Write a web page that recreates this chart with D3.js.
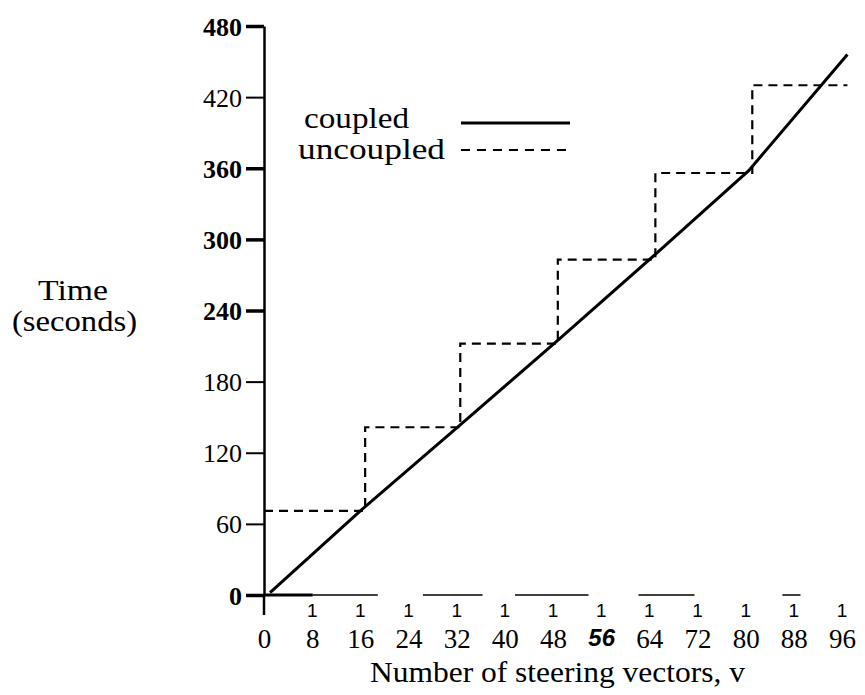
<!DOCTYPE html>
<html>
<head>
<meta charset="utf-8">
<script src="https://cdn.jsdelivr.net/npm/d3@7"></script>
<style>
  body { margin: 0; background: #fff; }
  text { font-family: "Liberation Serif", "Times New Roman", serif; fill: #000; }
</style>
</head>
<body>
<script>
// chart data
let xTicks = [0, 8, 16, 24, 32, 40, 48, 56, 64, 72, 80, 88, 96];
let yTicks = [0, 60, 120, 180, 240, 300, 360, 420, 480];
let yBoldTicks = [0, 240, 300, 360, 480];

// coupled: measured points along the solid line
let coupledX = [1, 16, 32.5, 48.6, 64.9, 80.5, 96.9];
let coupledY = [2, 71, 143, 214, 287, 358, 456];

// uncoupled: staircase, level held until the next rise
let uncoupledX = [0, 16.8, 32.6, 48.8, 65, 81.1, 96.9];
let uncoupledY = [71, 141.5, 212, 283, 356, 430, 430];

// pieces of the broken x axis line (start, end, in v units)
let axisPieces = [[8.1, 18.9], [26.4, 36.3], [41.7, 53.9], [62.2, 71.5], [86.1, 89.1]];

let width = 865, height = 695;

let xScale = d3.scaleLinear().domain([0, 96]).range([264, 842]);
let yScale = d3.scaleLinear().domain([0, 480]).range([595, 26]);

let svg = d3.select("body").append("svg")
    .attr("width", width)
    .attr("height", height);

// y axis
let yAxis = svg.append("g")
    .attr("transform", "translate(" + xScale(0) + ",0)")
    .call(d3.axisLeft(yScale).tickValues(yTicks).tickSize(18).tickSizeOuter(0).tickPadding(4));

yAxis.select(".domain").attr("stroke", "#000").attr("stroke-width", 2.5);
yAxis.selectAll(".tick line")
    .attr("stroke", "#000")
    .attr("stroke-width", function(d) { return yBoldTicks.includes(d) ? 3.5 : 2; });
yAxis.selectAll(".tick text")
    .style("font-family", "'Liberation Serif', serif")
    .style("font-size", "26px")
    .style("font-weight", function(d) { return yBoldTicks.includes(d) ? "bold" : "normal"; })
    .attr("dy", "0.35em");

// y axis runs on a little below zero
svg.append("line")
    .attr("x1", xScale(0)).attr("x2", xScale(0))
    .attr("y1", yScale(0)).attr("y2", yScale(0) + 20)
    .attr("stroke", "#000").attr("stroke-width", 2.5);

// x axis: thick stub from zero, then broken thin pieces
svg.append("line")
    .attr("x1", xScale(0)).attr("x2", xScale(8.1))
    .attr("y1", yScale(0)).attr("y2", yScale(0))
    .attr("stroke", "#000").attr("stroke-width", 3);

svg.selectAll(".axis-piece")
    .data(axisPieces)
  .enter().append("line")
    .attr("class", "axis-piece")
    .attr("x1", function(d) { return xScale(d[0]); })
    .attr("x2", function(d) { return xScale(d[1]); })
    .attr("y1", yScale(0)).attr("y2", yScale(0))
    .attr("stroke", "#000").attr("stroke-width", 1.5);

// x axis labels through d3's axis
let xAxis = svg.append("g")
    .attr("transform", "translate(0," + yScale(0) + ")")
    .call(d3.axisBottom(xScale).tickValues(xTicks).tickSize(0).tickPadding(34));

xAxis.select(".domain").remove();
xAxis.selectAll(".tick text")
    .style("font-family", function(d) { return d === 56 ? "'Liberation Sans', Arial, sans-serif" : "'Liberation Serif', serif"; })
    .style("font-size", function(d) { return d === 56 ? "24px" : "27px"; })
    .style("font-weight", function(d) { return d === 56 ? "bold" : "normal"; })
    .style("font-style", function(d) { return d === 56 ? "italic" : "normal"; })
    .attr("dy", "0.71em");

// tick marks printed as little "1" glyphs
svg.selectAll(".tick-one")
    .data(xTicks.filter(function(d) { return d > 0; }))
  .enter().append("text")
    .attr("class", "tick-one")
    .attr("x", function(d) { return xScale(d); })
    .attr("y", yScale(0) + 22)
    .attr("text-anchor", "middle")
    .style("font-family", "'Liberation Sans', Arial, sans-serif")
    .style("font-size", "19px")
    .text("1");

// lines
let line = d3.line()
    .x(function(d) { return xScale(d[0]); })
    .y(function(d) { return yScale(d[1]); });

svg.append("path")
    .datum(d3.zip(uncoupledX, uncoupledY))
    .attr("fill", "none")
    .attr("stroke", "#000")
    .attr("stroke-width", 2.2)
    .attr("stroke-dasharray", "9,6")
    .attr("d", line.curve(d3.curveStepAfter));

svg.append("path")
    .datum(d3.zip(coupledX, coupledY))
    .attr("fill", "none")
    .attr("stroke", "#000")
    .attr("stroke-width", 3)
    .attr("d", line.curve(d3.curveLinear));

// legend
svg.append("text").attr("x", 304).attr("y", 128)
    .attr("textLength", 105).attr("lengthAdjust", "spacingAndGlyphs")
    .style("font-size", "29px").text("coupled");
svg.append("line").attr("x1", 461).attr("x2", 570).attr("y1", 123).attr("y2", 123)
    .attr("stroke", "#000").attr("stroke-width", 3);
svg.append("text").attr("x", 298).attr("y", 159)
    .attr("textLength", 147).attr("lengthAdjust", "spacingAndGlyphs")
    .style("font-size", "29px").text("uncoupled");
svg.append("line").attr("x1", 461).attr("x2", 570).attr("y1", 150).attr("y2", 150)
    .attr("stroke", "#000").attr("stroke-width", 2.2).attr("stroke-dasharray", "9,7");

// axis titles
svg.append("text").attr("x", 38).attr("y", 300)
    .attr("textLength", 70).attr("lengthAdjust", "spacingAndGlyphs")
    .style("font-size", "30px").text("Time");
svg.append("text").attr("x", 12).attr("y", 331)
    .attr("textLength", 125).attr("lengthAdjust", "spacingAndGlyphs")
    .style("font-size", "30px").text("(seconds)");

svg.append("text").attr("x", 370).attr("y", 682)
    .attr("textLength", 375).attr("lengthAdjust", "spacingAndGlyphs")
    .style("font-size", "30px")
    .text("Number of steering vectors, v");
</script>
</body>
</html>
